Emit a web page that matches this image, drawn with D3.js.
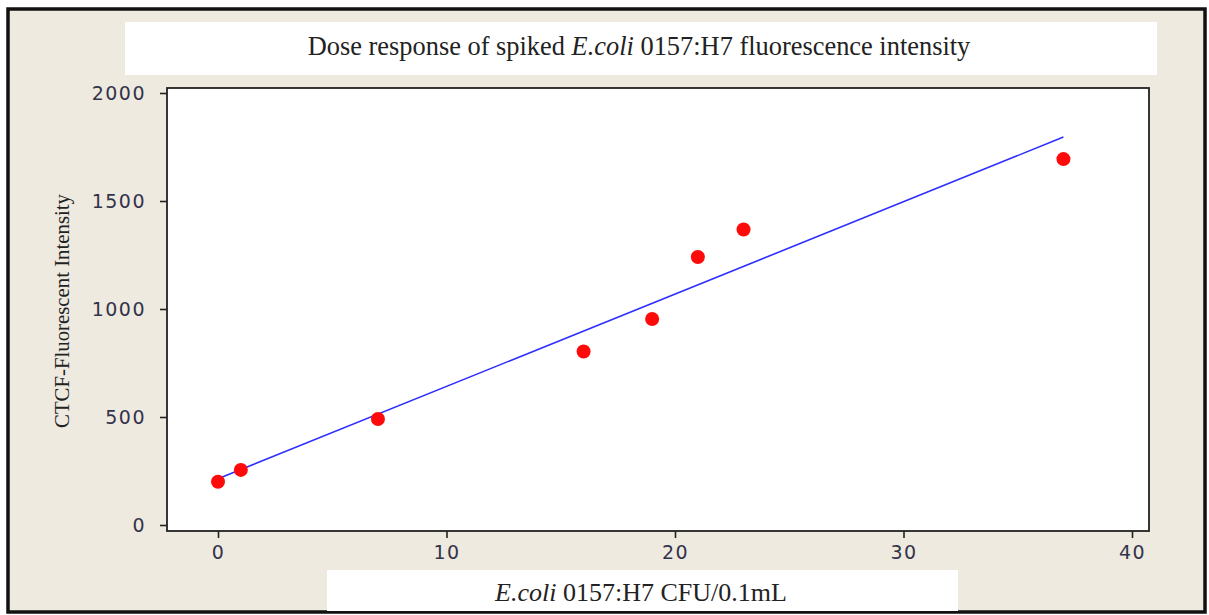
<!DOCTYPE html>
<meta charset='utf-8'>
<style>
    body { margin: 0; background: #fff; }
    svg { display: block; }
    .tick text { font-family: 'DejaVu Sans', Verdana, sans-serif; fill: #33334a; }
    .tick line { stroke: #222; stroke-width: 1.6; }
</style>
<body>
<div id='chart'></div>
<script src='https://d3js.org/d3.v7.min.js'></script>
<script>
    // data
    const doseCfu = [ 0, 1, 7, 16, 19, 21, 23, 37 ];
    const ctcfIntensity = [ 200, 255, 491, 803, 954, 1241, 1368, 1694 ];
    // fitted line, end points
    const fitX = [ 0, 37 ];
    const fitY = [ 214, 1796 ];
    const xTicks = [ 0, 10, 20, 30, 40 ];
    const yTicks = [ 0, 500, 1000, 1500, 2000 ];

    const W = 1209, H = 615;
    const plot = { left: 167, top: 88, right: 1149, bottom: 531 };
    const serif = "'Liberation Serif', 'Times New Roman', serif";

    const svg = d3.select( '#chart' ).append( 'svg' )
        .attr( 'width', W )
        .attr( 'height', H );

    // window background + frame
    svg.append( 'rect' )
        .attr( 'x', 8 ).attr( 'y', 9 )
        .attr( 'width', 1197 ).attr( 'height', 603 )
        .style( 'fill', '#eeeae0' )
        .style( 'stroke', '#111' )
        .style( 'stroke-width', 3.5 );

    // title box
    svg.append( 'rect' )
        .attr( 'x', 125 ).attr( 'y', 22 )
        .attr( 'width', 1032 ).attr( 'height', 53 )
        .style( 'fill', '#fff' );

    let title = svg.append( 'text' )
        .attr( 'x', 639 ).attr( 'y', 55 )
        .attr( 'text-anchor', 'middle' )
        .style( 'font-family', serif )
        .style( 'font-size', '26.4px' )
        .style( 'fill', '#222' );
    title.append( 'tspan' ).text( 'Dose response of spiked ' );
    title.append( 'tspan' ).style( 'font-style', 'italic' ).text( 'E.coli' );
    title.append( 'tspan' ).text( ' 0157:H7 fluorescence intensity' );

    // x label box
    svg.append( 'rect' )
        .attr( 'x', 327 ).attr( 'y', 570 )
        .attr( 'width', 631 ).attr( 'height', 41 )
        .style( 'fill', '#fff' );

    let xLabel = svg.append( 'text' )
        .attr( 'x', 641 ).attr( 'y', 601 )
        .attr( 'text-anchor', 'middle' )
        .style( 'font-family', serif )
        .style( 'font-size', '26px' )
        .style( 'fill', '#222' );
    xLabel.append( 'tspan' ).style( 'font-style', 'italic' ).text( 'E.coli' );
    xLabel.append( 'tspan' ).text( ' 0157:H7 CFU/0.1mL' );

    // y label
    svg.append( 'text' )
        .attr( 'transform', 'translate( 69, 311 ) rotate( -90 )' )
        .attr( 'text-anchor', 'middle' )
        .style( 'font-family', serif )
        .style( 'font-size', '20.8px' )
        .style( 'fill', '#222' )
        .text( 'CTCF-Fluorescent Intensity' );

    // scales: 0 -> 218px, 40 -> 1132px ; 0 -> 525px, 2000 -> 93px
    const xPerUnit = ( 1132 - 218 ) / 40;
    const yPerUnit = ( 525 - 93 ) / 2000;
    const xScale = d3.scaleLinear()
        .domain( [ -( 218 - plot.left ) / xPerUnit, 40 + ( plot.right - 1132 ) / xPerUnit ] )
        .range( [ plot.left, plot.right ] );
    const yScale = d3.scaleLinear()
        .domain( [ -( plot.bottom - 525 ) / yPerUnit, 2000 + ( 93 - plot.top ) / yPerUnit ] )
        .range( [ plot.bottom, plot.top ] );

    // plot area
    svg.append( 'rect' )
        .attr( 'x', plot.left ).attr( 'y', plot.top )
        .attr( 'width', plot.right - plot.left )
        .attr( 'height', plot.bottom - plot.top )
        .style( 'fill', '#fff' )
        .style( 'stroke', '#222' )
        .style( 'stroke-width', 1.8 );

    let xAxisEl = svg.append( 'g' )
        .attr( 'transform', `translate( 0, ${plot.bottom} )` )
        .call( d3.axisBottom( xScale ).tickValues( xTicks ).tickFormat( d3.format( 'd' ) )
            .tickSize( 7 ).tickPadding( 8 ) );
    let yAxisEl = svg.append( 'g' )
        .attr( 'transform', `translate( ${plot.left}, 0 )` )
        .call( d3.axisLeft( yScale ).tickValues( yTicks ).tickFormat( d3.format( 'd' ) )
            .tickSize( 7 ).tickPadding( 14 ) );

    [ xAxisEl, yAxisEl ].forEach( g => {
        g.select( '.domain' ).remove();
        g.selectAll( 'text' )
            .style( 'font-size', '19px' )
            .style( 'letter-spacing', '1.5px' );
    } );

    // fitted line
    const line = d3.line()
        .x( d => xScale( d[0] ) )
        .y( d => yScale( d[1] ) );
    svg.append( 'path' )
        .datum( fitX.map( ( x, i ) => [ x, fitY[i] ] ) )
        .attr( 'd', line )
        .style( 'fill', 'none' )
        .style( 'stroke', '#2e2eff' )
        .style( 'stroke-width', 1.6 );

    // points
    svg.selectAll( '.pt' )
        .data( doseCfu.map( ( x, i ) => [ x, ctcfIntensity[i] ] ) )
        .enter().append( 'circle' )
            .attr( 'class', 'pt' )
            .attr( 'cx', d => xScale( d[0] ) )
            .attr( 'cy', d => yScale( d[1] ) )
            .attr( 'r', 7 )
            .style( 'fill', '#ff0a0a' );
</script>
</body>
